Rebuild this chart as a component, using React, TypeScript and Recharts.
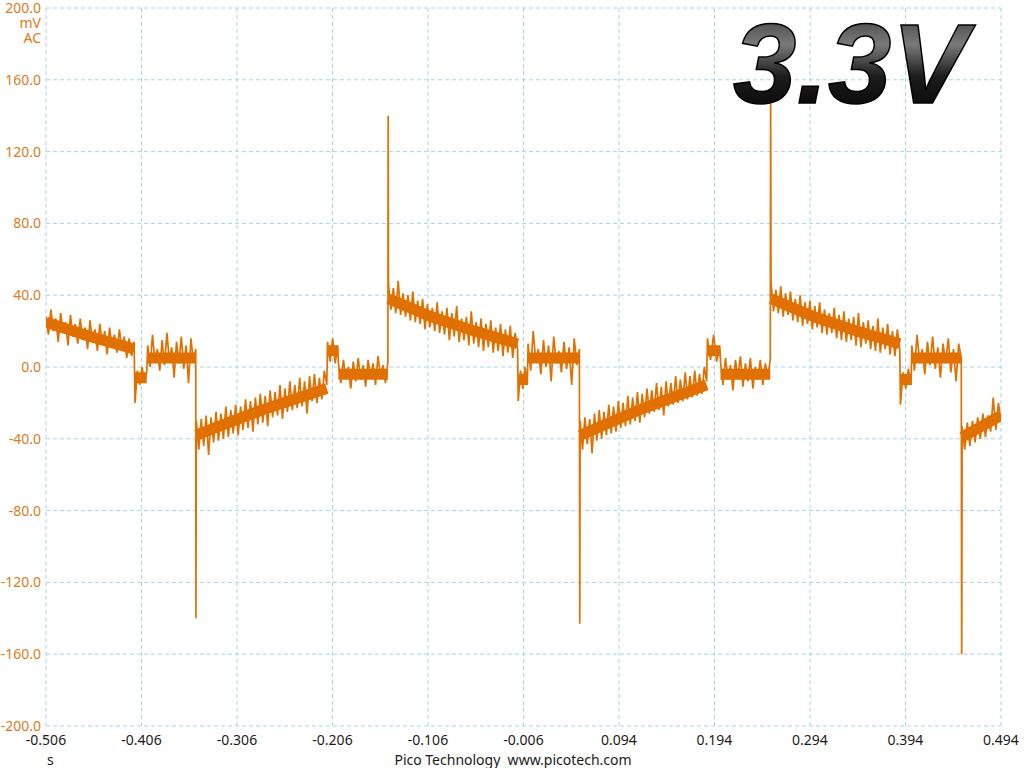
import React from 'react';
import { LineChart, Line, XAxis, YAxis, CartesianGrid } from 'recharts';

const FONT = "'Noto Sans', 'DejaVu Sans', sans-serif";
const ORANGE = '#e07000';

const xTicks = [-0.506, -0.406, -0.306, -0.206, -0.106, -0.006, 0.094, 0.194, 0.294, 0.394, 0.494];
const yTicks = [-200, -160, -120, -80, -40, 0, 40, 80, 120, 160, 200];

// time span of each stretch of the trace (s)
const segTimes = [
  [-0.506, -0.4138],
  [-0.4128, -0.4005],
  [-0.3995, -0.3492],
  [-0.3486, -0.212],
  [-0.2112, -0.2005],
  [-0.1998, -0.148],
  [-0.1474, -0.0122],
  [-0.0115, -0.002],
  [-0.0012, 0.0525],
  [0.0533, 0.1858],
  [0.1866, 0.1995],
  [0.2003, 0.2524],
  [0.2532, 0.388],
  [0.3887, 0.3998],
  [0.4006, 0.4524],
  [0.4533, 0.494],
];

// mV readings, noisy band
const segA = [28, 18, 32, 20, 27, 14, 30, 19, 25, 12, 29, 17, 24, 13, 27, 15, 22, 10, 26, 14, 21, 9, 24, 13, 20, 7, 22, 11, 18, 8, 21, 10, 17, 5, 16, 6, 14];
const segB = [-20, -2, -10, 0, -8, -3];
const segC = [12, 0, 18, 3, 10, -2, 15, 1, 19, 4, 11, -6, 14, 2, 17, -1, 12, -9, 16, 3, 10];
const segD = [-30, -46, -29, -44, -27, -49, -28, -42, -25, -41, -26, -40, -22, -39, -24, -37, -21, -38, -22, -35, -18, -34, -19, -36, -17, -32, -15, -31, -16, -33, -13, -28, -14, -27, -10, -29, -12, -25, -8, -24, -10, -23, -6, -22, -8, -26, -5, -19, -4, -20, -6, -18, -2, -10];
const segE = [14, 3, 16, 2, 12];
const segF = [2, -9, 4, -6, 0, -12, 3, -8, 5, -7, 1, -11, 4, -6, 2, -10, 6, -5, 1, -9, 3];
const segG = [46, 32, 44, 30, 48, 29, 41, 28, 40, 26, 42, 25, 37, 24, 38, 21, 35, 22, 33, 20, 36, 19, 31, 18, 33, 15, 30, 17, 34, 14, 27, 15, 28, 12, 31, 13, 25, 11, 27, 9, 24, 11, 26, 8, 22, 9, 24, 6, 21, 8, 23, 5, 19, 10];
const segH = [-19, -2, -12, 0, -10];
const segI = [13, -2, 20, 3, 10, -4, 15, 0, 12, -8, 17, 2, 9, -3, 14, -1, 11, -10, 16, 1, 10];
const segJ = [-30, -46, -28, -43, -29, -48, -26, -41, -24, -40, -25, -38, -21, -37, -22, -36, -19, -34, -20, -33, -16, -32, -17, -30, -14, -31, -15, -28, -12, -26, -13, -25, -9, -24, -11, -27, -8, -22, -9, -21, -5, -20, -7, -19, -3, -18, -5, -17, -2, -16, -4, -15, 0, -8];
const segK = [16, 4, 18, 3, 12];
const segL = [3, -10, 5, -7, 1, -13, 4, -6, 6, -11, 2, -8, 5, -12, 0, -7, 4, -10, 2, -6, 4];
const segM = [47, 31, 43, 30, 45, 28, 41, 29, 42, 26, 38, 25, 40, 23, 36, 24, 37, 21, 34, 22, 36, 19, 32, 18, 30, 19, 33, 16, 29, 15, 31, 14, 27, 15, 28, 12, 30, 11, 25, 13, 26, 10, 23, 9, 27, 8, 22, 10, 24, 7, 20, 6, 21, 10];
const segN = [-21, -3, -12, -1, -10];
const segO = [12, -2, 18, 3, 10, -4, 14, 1, 17, -1, 11, -6, 13, 2, 16, -3, 10, -8, 13, 5];
const segP = [-33, -46, -31, -44, -30, -42, -28, -40, -26, -39, -27, -36, -17, -35, -20, -30];

const segments = [segA, segB, segC, segD, segE, segF, segG, segH, segI, segJ, segK, segL, segM, segN, segO, segP];

// mean level of each stretch (mV), the dense core of the band
const segCore = [
  [25, 17, 10],
  [-6, -6],
  [5, 5],
  [-38, -24, -12],
  [9, 9],
  [-4, -4],
  [38, 28, 20, 13],
  [-7, -7],
  [5, 5],
  [-38, -23, -10],
  [9, 9],
  [-4, -4],
  [38, 28, 20, 13],
  [-7, -7],
  [5, 5],
  [-39, -27],
];

// single-sample glitches [s, mV]
const glitches = [
  [-0.349, -140],
  [-0.1477, 140],
  [0.0529, -143],
  [0.2528, 152],
  [0.4528, -160],
  [0.453, -133],
];

const spread = (vals: number[], t0: number, t1: number) =>
  vals.map((v, j) => ({ t: t0 + ((t1 - t0) * j) / (vals.length - 1), v }));

const traceData = (() => {
  const pts: { t: number; v: number }[] = [];
  segments.forEach((vals, i) => pts.push(...spread(vals, segTimes[i][0], segTimes[i][1])));
  glitches.forEach(([t, v]) => pts.push({ t, v }));
  return pts.sort((a, b) => a.t - b.t);
})();

const coreData = (() => {
  const pts: { t: number; v: number | null }[] = [];
  segCore.forEach((vals, i) => {
    const [t0, t1] = segTimes[i];
    pts.push(...spread(vals, t0, t1));
    pts.push({ t: t1 + 0.0002, v: null });
  });
  return pts;
})();

export default function App() {
  return (
    <div style={{ position: 'absolute', left: 0, top: 0, width: 1024, height: 768, background: '#fff', fontFamily: FONT }}>
      <LineChart width={1024} height={768} margin={{ top: 8, right: 23, left: 0, bottom: 0 }}>
        <CartesianGrid stroke="#a6d6e8" strokeDasharray="4 3" />
        <XAxis
          dataKey="t"
          type="number"
          domain={[-0.506, 0.494]}
          ticks={xTicks}
          interval={0}
          allowDataOverflow
          tickFormatter={(v: number) => v.toFixed(3)}
          axisLine={false}
          tickLine={false}
          tickSize={0}
          tickMargin={9}
          height={42}
          tick={{ fill: '#1a1a1a', fontSize: 14, fontFamily: FONT }}
        />
        <YAxis
          type="number"
          domain={[-200, 200]}
          ticks={yTicks}
          interval={0}
          tickFormatter={(v: number) => v.toFixed(1)}
          axisLine={false}
          tickLine={false}
          tickSize={0}
          tickMargin={5}
          width={46}
          tick={{ fill: '#e07a1a', fontSize: 14, fontFamily: FONT }}
        />
        <Line
          data={coreData}
          type="linear"
          dataKey="v"
          stroke={ORANGE}
          strokeWidth={11}
          strokeLinecap="butt"
          dot={false}
          connectNulls={false}
          isAnimationActive={false}
        />
        <Line data={traceData} type="linear" dataKey="v" stroke={ORANGE} strokeWidth={1.7} dot={false} isAnimationActive={false} />
      </LineChart>

      <svg width={1024} height={768} style={{ position: 'absolute', left: 0, top: 0, pointerEvents: 'none' }}>
        <defs>
          <linearGradient id="chrome" x1="0" y1="0" x2="0" y2="1">
            <stop offset="0%" stopColor="#2a2a2a" />
            <stop offset="35%" stopColor="#7a7a7a" />
            <stop offset="60%" stopColor="#1c1c1c" />
            <stop offset="100%" stopColor="#000" />
          </linearGradient>
        </defs>
        <text x={41} y={28} textAnchor="end" fill="#e07a1a" fontSize={14} fontFamily={FONT}>mV</text>
        <text x={41} y={43} textAnchor="end" fill="#e07a1a" fontSize={14} fontFamily={FONT}>AC</text>
        <text x={47} y={765} fill="#1a1a1a" fontSize={14} fontFamily={FONT}>s</text>
        <text x={513} y={765} textAnchor="middle" fill="#1a1a1a" fontSize={14} fontFamily={FONT} style={{ whiteSpace: 'pre' }}>
          Pico Technology  www.picotech.com
        </text>
        <text
          x={733}
          y={103}
          fill="url(#chrome)"
          stroke="#000"
          strokeWidth={1.5}
          fontSize={114}
          fontStyle="italic"
          fontWeight="bold"
          fontFamily="'Liberation Sans', Arial, sans-serif"
        >
          3.3V
        </text>
      </svg>
    </div>
  );
}
